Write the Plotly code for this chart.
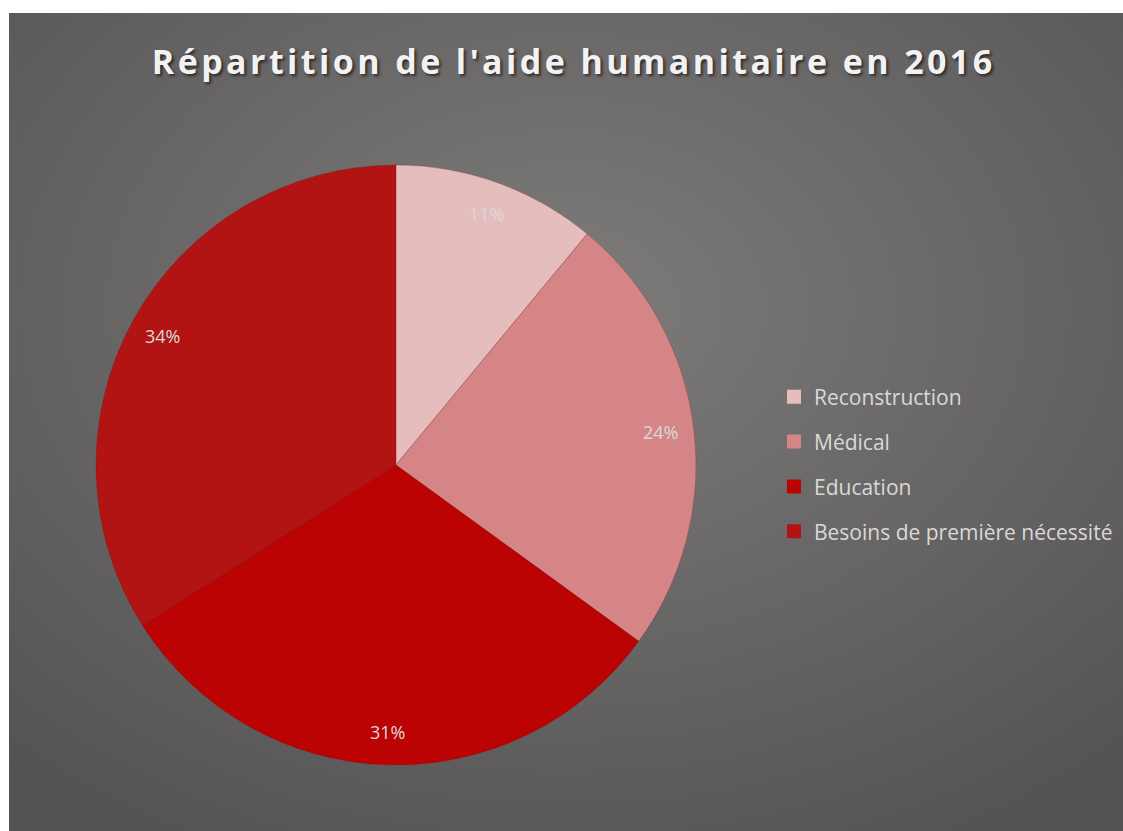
import math
import plotly.graph_objects as go

# ---- data ----
categories = ["Reconstruction", "Médical", "Education", "Besoins de première nécessité"]
values = [11, 24, 31, 34]
colors = ["#e6bdbd", "#d58585", "#bb0303", "#b21414"]
title_text = "Répartition de l'aide humanitaire en 2016"

W, H = 1123, 831
FONT = "Open Sans, Calibri, sans-serif"


def px_x(x):
    return x / W


def px_y(y):
    return 1 - y / H


# pie geometry (page pixel coords)
PCX, PCY, R = 396, 465, 300
dom_x = [px_x(PCX - R), px_x(PCX + R)]
dom_y = [px_y(PCY + R), px_y(PCY - R)]

fig = go.Figure()
fig.add_trace(go.Pie(
    labels=categories, values=values, sort=False, direction="clockwise",
    rotation=0, marker=dict(colors=colors, line=dict(color="rgba(120,0,0,0.35)", width=0.6)),
    textinfo="none", hoverinfo="label+percent", showlegend=False,
    domain=dict(x=dom_x, y=dom_y),
))

# legend entries (square markers)
for c, col in zip(categories, colors):
    fig.add_trace(go.Scatter(
        x=[None], y=[None], mode="markers", name=c, legendgroup=c,
        marker=dict(symbol="square", size=14, color=col),
        showlegend=True, hoverinfo="skip",
    ))

# data labels at ~0.89 R along slice mid-angle
total = sum(values)
cum = 0
annotations = []
for v in values:
    mid = (cum + v / 2) / total * 2 * math.pi
    cum += v
    lx = PCX + 0.89 * R * math.sin(mid)
    ly = PCY - 0.89 * R * math.cos(mid)
    annotations.append(dict(
        x=px_x(lx), y=px_y(ly), xref="paper", yref="paper",
        text=f"{round(v / total * 100)}%", showarrow=False,
        font=dict(family=FONT, size=18, color="#d9d9d9"),
        xanchor="center", yanchor="middle",
    ))

spaced_title = "\u200a".join(title_text)

svg = (
    "data:image/svg+xml;utf8,"
    "<svg xmlns='http://www.w3.org/2000/svg' width='1114' height='818' viewBox='0 0 1114 818' preserveAspectRatio='none'>"
    "<defs><radialGradient id='g' cx='50%' cy='36%' r='75%'>"
    "<stop offset='0%' stop-color='%237e7b7b'/>"
    "<stop offset='100%' stop-color='%23545252'/>"
    "</radialGradient></defs>"
    "<rect width='1114' height='818' fill='url(%23g)'/></svg>"
)

fig.update_layout(
    width=W, height=H,
    margin=dict(l=0, r=0, t=0, b=0),
    paper_bgcolor="white", plot_bgcolor="rgba(0,0,0,0)",
    xaxis=dict(visible=False), yaxis=dict(visible=False),
    images=[dict(source=svg, xref="paper", yref="paper", x=px_x(9), y=px_y(13),
                 sizex=1114 / W, sizey=818 / H, sizing="stretch", layer="below",
                 xanchor="left", yanchor="top")],
    title=dict(text=spaced_title, x=px_x(572), xanchor="center", y=px_y(62), yanchor="middle",
               font=dict(family=FONT, size=34, color="#f2f2f2", weight="bold",
                         shadow="2px 2px 3px rgba(0,0,0,0.6)")),
    legend=dict(x=px_x(774), y=px_y(376.5), xanchor="left", yanchor="top",
                font=dict(family=FONT, size=21, color="#d9d9d9"),
                bgcolor="rgba(0,0,0,0)", tracegroupgap=14.6, itemclick=False),
    annotations=annotations,
)

fig.write_html(
    "out.html",
    config={"displayModeBar": False},
    post_script="document.body.style.margin='0';document.body.style.overflow='hidden';",
)
